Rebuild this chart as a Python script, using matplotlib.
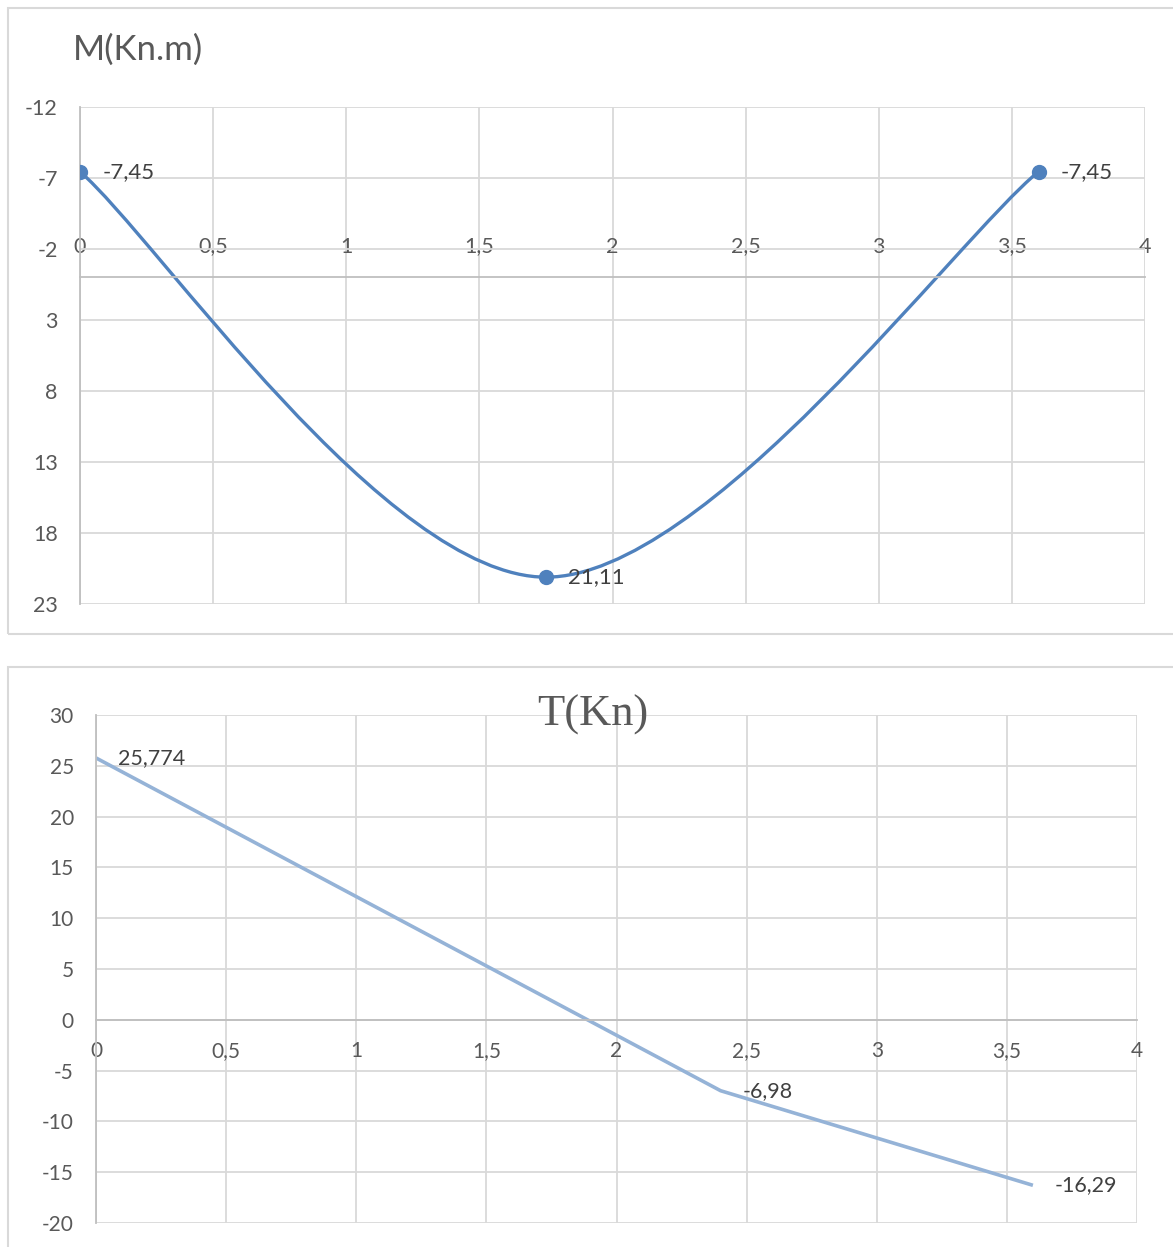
import numpy as np
import matplotlib
matplotlib.use("Agg")
import matplotlib.pyplot as plt
from matplotlib.path import Path
from matplotlib.patches import PathPatch, Rectangle

# bending moment, three points (Excel smoothed line)
m_x = [0, 1.75, 3.6]
m_y = [-7.45, 21.11, -7.45]
m_labels = ["-7,45", "21,11", "-7,45"]
m_yticks = [-12, -7, -2, 3, 8, 13, 18, 23]

# shear force
t_x = [0, 2.4, 3.6]
t_y = [25.774, -6.98, -16.29]
t_labels = ["25,774", "-6,98", "-16,29"]
t_yticks = [-20, -15, -10, -5, 0, 5, 10, 15, 20, 25, 30]

x_ticks = [0, 0.5, 1, 1.5, 2, 2.5, 3, 3.5, 4]
x_ticklabels = ["0", "0,5", "1", "1,5", "2", "2,5", "3", "3,5", "4"]

GRID = "#d9d9d9"
AXIS = "#bfbfbf"
TXT = "#595959"
LBL = "#404040"
SANS = ["Lato", "DejaVu Sans"]

plt.rcParams['font.family'] = SANS
plt.rcParams['axes.unicode_minus'] = False


def excel_smooth(xs, ys):
    """Bezier path through the points, like Excel's smoothed line"""
    p = np.column_stack([xs, ys]).astype(float)
    ext = np.vstack([p[0], p, p[-1]])
    verts = [p[0]]
    codes = [Path.MOVETO]
    for i in range(len(p) - 1):
        a, b, c, d = ext[i], ext[i + 1], ext[i + 2], ext[i + 3]
        c1 = b + (c - a) / 6.0
        c2 = c - (d - b) / 6.0
        verts += [c1, c2, c]
        codes += [Path.CURVE4] * 3
    return Path(verts, codes)


def style_axes(ax, xlim, ylim, yticks, size):
    ax.set_xlim(*xlim)
    ax.set_ylim(*ylim)
    ax.set_xticks(x_ticks)
    ax.set_yticks(yticks)
    ax.grid(True, color=GRID, linewidth=1.3)
    ax.set_axisbelow(True)
    for s in ax.spines.values():
        s.set_visible(False)
    ax.spines['left'].set_visible(True)
    ax.spines['left'].set_color(AXIS)
    ax.spines['left'].set_linewidth(1.3)
    ax.tick_params(axis='y', length=0, pad=16, labelsize=size, labelcolor=TXT)
    ax.tick_params(axis='x', length=0, labelsize=size, labelcolor=TXT)


fig = plt.figure(figsize=(11.73, 12.47), dpi=100)

# chart frames
fig.patches.append(Rectangle((8 / 1173, 1 - 634 / 1247), 1.2, 626 / 1247,
                             transform=fig.transFigure, fill=False,
                             edgecolor=GRID, linewidth=1.5))
fig.patches.append(Rectangle((8 / 1173, -0.1), 1.2, 0.1 + 1 - 667 / 1247,
                             transform=fig.transFigure, fill=False,
                             edgecolor=GRID, linewidth=1.5))

# --- M chart ---
ax1 = fig.add_axes([80 / 1173, 1 - 604 / 1247, 1065 / 1173, 497 / 1247])
style_axes(ax1, (0, 4), (23, -12), m_yticks, 15.5)
ax1.xaxis.tick_top()
ax1.spines['top'].set_visible(True)
ax1.spines['top'].set_position(('data', 0))
ax1.spines['top'].set_color(AXIS)
ax1.spines['top'].set_linewidth(1.3)
ax1.set_xticklabels(x_ticklabels)
ax1.tick_params(axis='x', pad=15)
ax1.add_patch(PathPatch(excel_smooth(m_x, m_y), fill=False,
                        edgecolor="#4f81bd", linewidth=2.4, capstyle='round'))
ax1.plot(m_x, m_y, linestyle='none', marker='o', markersize=10,
         color="#4f81bd", zorder=5)
for x, y, s in zip(m_x, m_y, m_labels):
    ax1.annotate(s, (x, y), xytext=(16, 0), textcoords='offset points',
                 ha='left', va='center', fontsize=16, color=LBL)
fig.text(73 / 1173, 1 - 50 / 1247, "M(Kn.m)", fontsize=25, color=TXT,
         ha='left', va='center')

# --- T chart ---
ax2 = fig.add_axes([96 / 1173, 1 - 1223 / 1247, 1041 / 1173, 508 / 1247])
style_axes(ax2, (0, 4), (-20, 30), t_yticks, 15)
ax2.spines['bottom'].set_visible(True)
ax2.spines['bottom'].set_position(('data', 0))
ax2.spines['bottom'].set_color(AXIS)
ax2.spines['bottom'].set_linewidth(1.3)
ax2.set_xticklabels(x_ticklabels)
ax2.tick_params(axis='x', pad=15)
ax2.plot(t_x, t_y, color="#95b3d7", linewidth=2.6, solid_capstyle='butt')
for x, y, s in zip(t_x, t_y, t_labels):
    ax2.annotate(s, (x, y), xytext=(16, 0), textcoords='offset points',
                 ha='left', va='center', fontsize=15.5, color=LBL)
fig.text(593 / 1173, 1 - 715 / 1247, "T(Kn)", fontsize=32, color=TXT,
         ha='center', va='center', family=["Liberation Serif", "DejaVu Serif"])

fig.savefig("out.png", dpi=100)
